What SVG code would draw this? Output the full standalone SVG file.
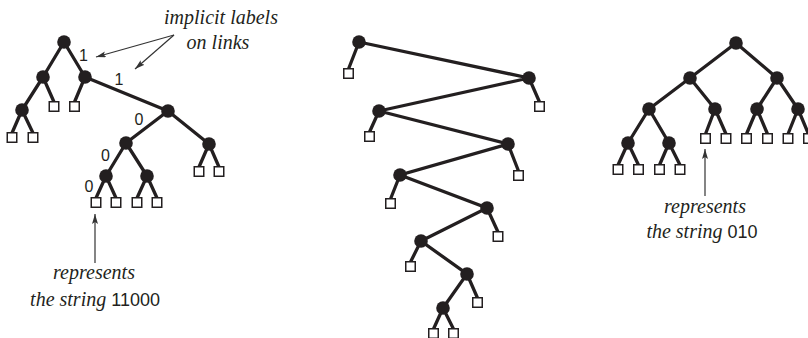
<svg xmlns="http://www.w3.org/2000/svg" width="808" height="338" viewBox="0 0 808 338">
<style>
.e{stroke:#231f20;stroke-width:3.3;stroke-linecap:round;fill:none}
.n{fill:#231f20}
.s{fill:#fff;stroke:#231f20;stroke-width:1.5}
.a{stroke:#333;stroke-width:1.2;fill:none}
.it{font-family:"Liberation Serif","Times New Roman",serif;font-style:italic;font-size:20px;fill:#231f20}
.num{font-family:"Liberation Sans",Arial,sans-serif;font-style:normal;font-size:18px;fill:#231f20}
.lb{font-family:"Liberation Sans",Arial,sans-serif;font-size:16px;fill:#231f20;text-anchor:middle}
</style>
<defs>
<marker id="ah" viewBox="0 0 10 6" refX="10" refY="3" markerWidth="10" markerHeight="6" markerUnits="userSpaceOnUse" orient="auto">
<path d="M0,0 L10,3 L0,6 L2,3 Z" fill="#333"/>
</marker>
</defs>
<g id="connectors">
<path class="e" d="M64,42 L43,77 M64,42 L85,77 M43,77 L22,110 M43,77 L54,102 M85,77 L74.5,102 M85,77 L168,111 M22,110 L12,133 M22,110 L33,133 M168,111 L126,143 M168,111 L209,144 M209,144 L199,167 M209,144 L219,167 M126,143 L106,176 M126,143 L147,176 M106,176 L96,198 M106,176 L116,198 M147,176 L137,198 M147,176 L157,198"/>
<path class="e" d="M359,42 L529,78 L379,111 L508,144 L400,175 L487,208 L421,241 L467,274 L443,308 M359,42 L348.5,69 M529,78 L539.5,102 M379,111 L369.5,132 M508,144 L518.5,171 M400,175 L390.5,199 M487,208 L498,232 M421,241 L410.5,262 M467,274 L477.5,298 M443,308 L433.5,329 M443,308 L453.5,329"/>
<path class="e" d="M736,43 L690,78 M736,43 L777,78 M690,78 L649,109 M690,78 L715,109 M777,78 L757,109 M777,78 L798,109 M649,109 L628,143 M649,109 L669,143 M715,109 L705.5,134 M715,109 L726,134 M757,109 L746.5,134 M757,109 L767.5,134 M798,109 L788,134 M798,109 L808.5,134 M628,143 L618,165 M628,143 L638.5,165 M669,143 L659.5,165 M669,143 L680,165"/>
<line class="a" x1="174" y1="35" x2="96" y2="57" marker-end="url(#ah)"/>
<line class="a" x1="174" y1="35" x2="135" y2="69" marker-end="url(#ah)"/>
<line class="a" x1="95" y1="263" x2="95" y2="214" marker-end="url(#ah)"/>
<line class="a" x1="705" y1="196" x2="705" y2="149" marker-end="url(#ah)"/>
</g>
<g id="L-root"><circle class="n" cx="64" cy="42" r="6.8"/></g>
<g id="L-1"><circle class="n" cx="43" cy="77" r="6.8"/></g>
<g id="L-2"><circle class="n" cx="85" cy="77" r="6.8"/></g>
<g id="L-3"><circle class="n" cx="22" cy="110" r="6.8"/></g>
<g id="L-4"><circle class="n" cx="168" cy="111" r="6.8"/></g>
<g id="L-5"><circle class="n" cx="126" cy="143" r="6.8"/></g>
<g id="L-6"><circle class="n" cx="209" cy="144" r="6.8"/></g>
<g id="L-7"><circle class="n" cx="106" cy="176" r="6.8"/></g>
<g id="L-8"><circle class="n" cx="147" cy="176" r="6.8"/></g>
<g id="L-leaf1"><rect class="s" x="7.25" y="132.75" width="9.5" height="9.5"/></g>
<g id="L-leaf2"><rect class="s" x="28.25" y="132.75" width="9.5" height="9.5"/></g>
<g id="L-leaf3"><rect class="s" x="49.25" y="101.75" width="9.5" height="9.5"/></g>
<g id="L-leaf4"><rect class="s" x="69.75" y="101.75" width="9.5" height="9.5"/></g>
<g id="L-leaf5"><rect class="s" x="194.25" y="166.75" width="9.5" height="9.5"/></g>
<g id="L-leaf6"><rect class="s" x="214.25" y="166.75" width="9.5" height="9.5"/></g>
<g id="L-leaf7"><rect class="s" x="91.25" y="197.75" width="9.5" height="9.5"/></g>
<g id="L-leaf8"><rect class="s" x="111.25" y="197.75" width="9.5" height="9.5"/></g>
<g id="L-leaf9"><rect class="s" x="132.25" y="197.75" width="9.5" height="9.5"/></g>
<g id="L-leaf10"><rect class="s" x="152.25" y="197.75" width="9.5" height="9.5"/></g>
<g id="M-1"><circle class="n" cx="359" cy="42" r="6.8"/></g>
<g id="M-2"><circle class="n" cx="529" cy="78" r="6.8"/></g>
<g id="M-3"><circle class="n" cx="379" cy="111" r="6.8"/></g>
<g id="M-4"><circle class="n" cx="508" cy="144" r="6.8"/></g>
<g id="M-5"><circle class="n" cx="400" cy="175" r="6.8"/></g>
<g id="M-6"><circle class="n" cx="487" cy="208" r="6.8"/></g>
<g id="M-7"><circle class="n" cx="421" cy="241" r="6.8"/></g>
<g id="M-8"><circle class="n" cx="467" cy="274" r="6.8"/></g>
<g id="M-9"><circle class="n" cx="443" cy="308" r="6.8"/></g>
<g id="M-leaf1"><rect class="s" x="343.75" y="68.75" width="9.5" height="9.5"/></g>
<g id="M-leaf2"><rect class="s" x="534.75" y="101.75" width="9.5" height="9.5"/></g>
<g id="M-leaf3"><rect class="s" x="364.75" y="131.75" width="9.5" height="9.5"/></g>
<g id="M-leaf4"><rect class="s" x="513.75" y="170.75" width="9.5" height="9.5"/></g>
<g id="M-leaf5"><rect class="s" x="385.75" y="198.75" width="9.5" height="9.5"/></g>
<g id="M-leaf6"><rect class="s" x="493.25" y="231.75" width="9.5" height="9.5"/></g>
<g id="M-leaf7"><rect class="s" x="405.75" y="261.75" width="9.5" height="9.5"/></g>
<g id="M-leaf8"><rect class="s" x="472.75" y="297.75" width="9.5" height="9.5"/></g>
<g id="M-leaf9"><rect class="s" x="428.75" y="328.75" width="9.5" height="9.5"/></g>
<g id="M-leaf10"><rect class="s" x="448.75" y="328.75" width="9.5" height="9.5"/></g>
<g id="R-root"><circle class="n" cx="736" cy="43" r="6.8"/></g>
<g id="R-1"><circle class="n" cx="690" cy="78" r="6.8"/></g>
<g id="R-2"><circle class="n" cx="777" cy="78" r="6.8"/></g>
<g id="R-3"><circle class="n" cx="649" cy="109" r="6.8"/></g>
<g id="R-4"><circle class="n" cx="715" cy="109" r="6.8"/></g>
<g id="R-5"><circle class="n" cx="757" cy="109" r="6.8"/></g>
<g id="R-6"><circle class="n" cx="798" cy="109" r="6.8"/></g>
<g id="R-7"><circle class="n" cx="628" cy="143" r="6.8"/></g>
<g id="R-8"><circle class="n" cx="669" cy="143" r="6.8"/></g>
<g id="R-leaf1"><rect class="s" x="700.75" y="133.75" width="9.5" height="9.5"/></g>
<g id="R-leaf2"><rect class="s" x="721.25" y="133.75" width="9.5" height="9.5"/></g>
<g id="R-leaf3"><rect class="s" x="741.75" y="133.75" width="9.5" height="9.5"/></g>
<g id="R-leaf4"><rect class="s" x="762.75" y="133.75" width="9.5" height="9.5"/></g>
<g id="R-leaf5"><rect class="s" x="783.25" y="133.75" width="9.5" height="9.5"/></g>
<g id="R-leaf6"><rect class="s" x="803.75" y="133.75" width="9.5" height="9.5"/></g>
<g id="R-leaf7"><rect class="s" x="613.25" y="164.75" width="9.5" height="9.5"/></g>
<g id="R-leaf8"><rect class="s" x="633.75" y="164.75" width="9.5" height="9.5"/></g>
<g id="R-leaf9"><rect class="s" x="654.75" y="164.75" width="9.5" height="9.5"/></g>
<g id="R-leaf10"><rect class="s" x="675.25" y="164.75" width="9.5" height="9.5"/></g>
<g id="labels">
<text class="lb" x="83.5" y="61">1</text>
<text class="lb" x="119" y="85">1</text>
<text class="lb" x="139" y="125">0</text>
<text class="lb" x="105.5" y="161">0</text>
<text class="lb" x="89" y="192">0</text>
</g>
<g id="notes">
<text class="it" x="221" y="24" text-anchor="middle">implicit labels</text>
<text class="it" x="218" y="49" text-anchor="middle">on links</text>
<text class="it" x="94" y="279" text-anchor="middle">represents</text>
<text class="it" x="95" y="306" text-anchor="middle">the string <tspan class="num">11000</tspan></text>
<text class="it" x="705" y="213" text-anchor="middle">represents</text>
<text class="it" x="702" y="238" text-anchor="middle">the string <tspan class="num">010</tspan></text>
</g>
</svg>
